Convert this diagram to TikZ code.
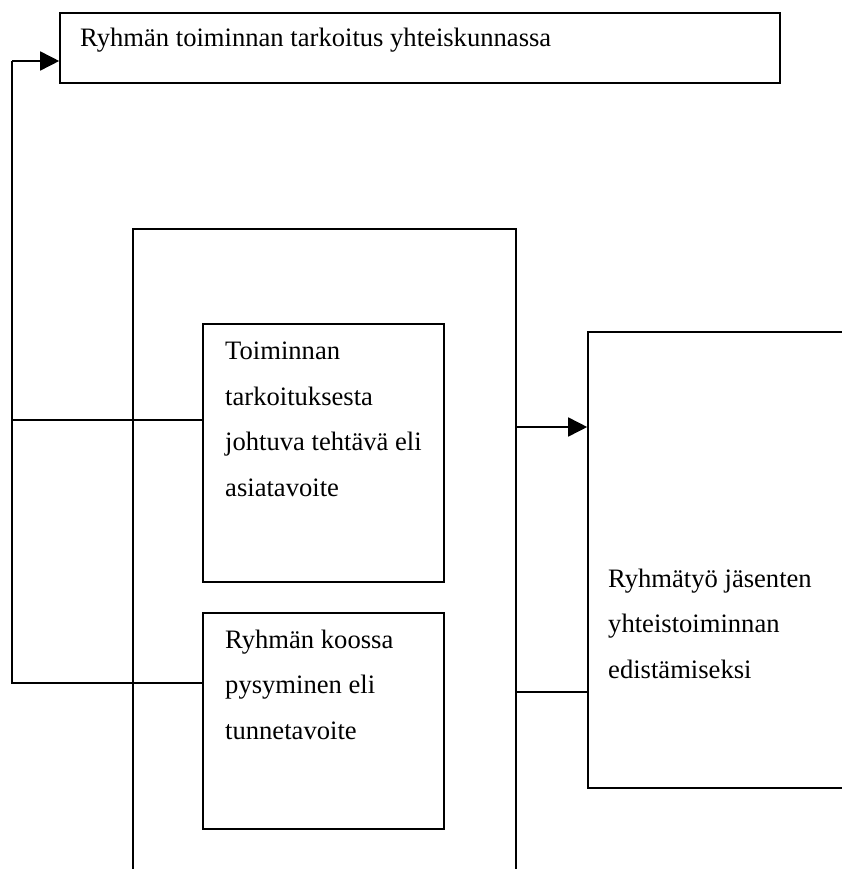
\documentclass[tikz,border=0pt]{standalone}
\usepackage{fontspec}
\setmainfont{Liberation Serif}
\usetikzlibrary{arrows.meta}
\begin{document}
\begin{tikzpicture}[x=1pt,y=-1pt,
  box/.style={draw,line width=1.6pt,inner sep=0pt,rectangle},
  txt/.style={anchor=base west,inner sep=0pt,align=left,font=\fontsize{26.6}{45.5}\selectfont},
  link/.style={line width=1.6pt},
  arr/.style={line width=1.6pt,-{Triangle[length=19pt,width=19pt]}}]
\useasboundingbox (0,0) rectangle (841,869);
% boxes
\node[box,minimum width=720pt,minimum height=70pt] (top) at (420,48) {};
\node[box,minimum width=383pt,minimum height=660pt] (outer) at (324.5,559) {};
\node[box,minimum width=241pt,minimum height=258pt] (b1) at (323.5,453) {};
\node[box,minimum width=241pt,minimum height=216pt] (b2) at (323.5,721) {};
\node[box,minimum width=262pt,minimum height=456pt] (right) at (719,560) {};
% texts (anchor at baseline of last line)
\node[txt] (ttop) at (80,47) {Ryhmän toiminnan tarkoitus yhteiskunnassa};
\node[txt] (tb1) at (225,496) {Toiminnan\\tarkoituksesta\\johtuva tehtävä eli\\asiatavoite};
\node[txt] (tb2) at (225,739) {Ryhmän koossa\\pysyminen eli\\tunnetavoite};
\node[txt] (tr) at (608,678) {Ryhmätyö jäsenten\\yhteistoiminnan\\edistämiseksi};
% connectors
\coordinate (c1) at (12,420);
\coordinate (c2) at (12,683);
\coordinate (c0) at (12,61);
\draw[link] (b1.west |- c1) -- (c1);
\draw[link] (b2.west |- c2) -- (c2) -- (c0);
\draw[arr] (c0) -- (top.west |- c0);
\coordinate (r1) at (516,427);
\coordinate (r2) at (516,692);
\draw[arr] (outer.east |- r1) -- (right.west |- r1);
\draw[link] (outer.east |- r2) -- (right.west |- r2);
\end{tikzpicture}
\end{document}
